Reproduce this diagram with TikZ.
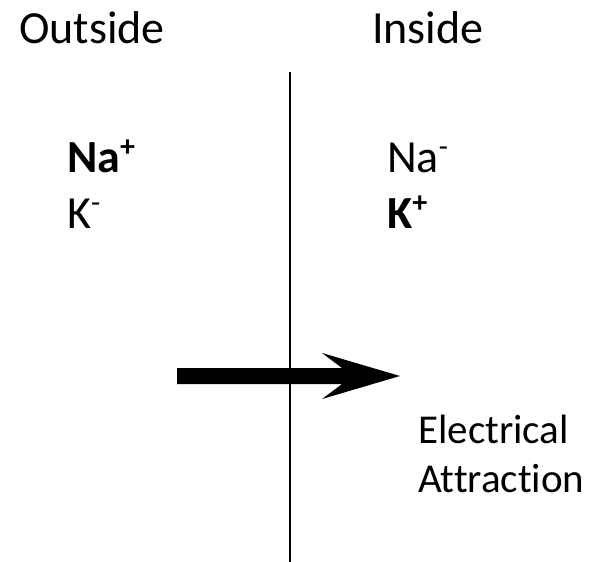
\documentclass[tikz,border=0pt]{standalone}
\usepackage{fontspec}
\setmainfont[Ligatures=NoCommon]{Carlito}
\begin{document}
\begin{tikzpicture}[x=1pt,y=-1pt,
  big/.style={anchor=base west,inner sep=0pt,font=\fontsize{46}{56}\selectfont},
  lbl/.style={anchor=base west,inner sep=0pt,font=\fontsize{41}{49}\selectfont,align=left}]
\useasboundingbox (0,0) rectangle (592,562);
\newcommand{\supchg}[1]{\raisebox{0.33em}{\fontsize{30}{30}\selectfont #1}}
\node[big] (outside) at (19,43) {Outside};
\node[big] (inside) at (372,43) {Inside};
\node[big] (naout) at (67,172) {\textbf{Na\supchg{+}}};
\node[big] (kout) at (67,228) {K\supchg{-}};
\node[big] (nain) at (387,172) {Na\supchg{-}};
\node[big] (kin) at (387,228) {\textbf{K\supchg{+}}};
\node[lbl] (elec) at (418,443) {Electrical};
\node[lbl] (attr) at (418,492) {Attraction};
\coordinate (mtop) at (289.5,72);
\coordinate (mbot) at (289.5,562);
\draw[line width=2pt] (mtop) -- (mbot);
\fill[black] (177,368) -- (342,368) -- (322,353) -- (400,376) -- (322,399) -- (342,384) -- (177,384) -- cycle;
\end{tikzpicture}
\end{document}
